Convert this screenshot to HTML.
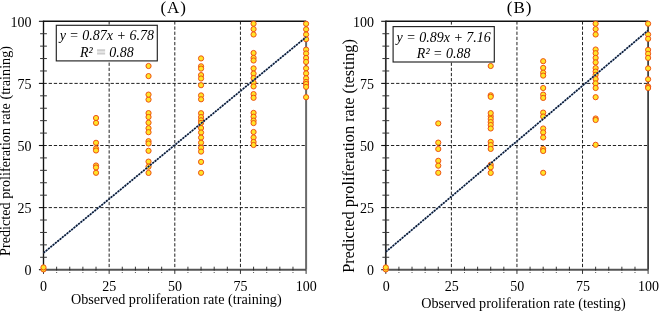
<!DOCTYPE html><html><head><meta charset="utf-8"><style>html,body{margin:0;padding:0;background:#fff;width:659px;height:311px;overflow:hidden}svg{display:block;will-change:transform}text{font-family:"Liberation Serif",serif;fill:#000}</style></head><body>
<svg width="659" height="311" viewBox="0 0 659 311">
<line x1="43.5" y1="207.60" x2="306.1" y2="207.60" stroke="#222" stroke-width="1" stroke-dasharray="3.3 1.86"/>
<line x1="109.15" y1="21.3" x2="109.15" y2="269.7" stroke="#222" stroke-width="1" stroke-dasharray="3.3 1.86"/>
<line x1="43.5" y1="145.50" x2="306.1" y2="145.50" stroke="#222" stroke-width="1" stroke-dasharray="3.3 1.86"/>
<line x1="174.80" y1="21.3" x2="174.80" y2="269.7" stroke="#222" stroke-width="1" stroke-dasharray="3.3 1.86"/>
<line x1="43.5" y1="83.40" x2="306.1" y2="83.40" stroke="#222" stroke-width="1" stroke-dasharray="3.3 1.86"/>
<line x1="240.45" y1="21.3" x2="240.45" y2="269.7" stroke="#222" stroke-width="1" stroke-dasharray="3.3 1.86"/>
<line x1="43.5" y1="21.3" x2="306.1" y2="21.3" stroke="#111" stroke-width="1.5"/>
<line x1="306.1" y1="21.3" x2="306.1" y2="269.7" stroke="#6a6a6a" stroke-width="2"/>
<line x1="43.5" y1="269.7" x2="306.1" y2="269.7" stroke="#555" stroke-width="2"/>
<line x1="43.5" y1="20.6" x2="43.5" y2="269.7" stroke="#111" stroke-width="1.35"/>
<line x1="38.9" y1="269.70" x2="43.5" y2="269.70" stroke="#111" stroke-width="1.1"/>
<line x1="43.50" y1="269.7" x2="43.50" y2="273.9" stroke="#333" stroke-width="1.0"/>
<line x1="40.1" y1="257.28" x2="46.9" y2="257.28" stroke="#333" stroke-width="1.0"/>
<line x1="56.63" y1="266.7" x2="56.63" y2="270.5" stroke="#222" stroke-width="0.9"/>
<rect x="56.13" y="272.00" width="1" height="1" fill="#555"/>
<line x1="40.1" y1="244.86" x2="46.9" y2="244.86" stroke="#333" stroke-width="1.0"/>
<line x1="69.76" y1="266.7" x2="69.76" y2="270.5" stroke="#222" stroke-width="0.9"/>
<rect x="69.26" y="272.00" width="1" height="1" fill="#555"/>
<line x1="40.1" y1="232.44" x2="46.9" y2="232.44" stroke="#333" stroke-width="1.0"/>
<line x1="82.89" y1="266.7" x2="82.89" y2="270.5" stroke="#222" stroke-width="0.9"/>
<rect x="82.39" y="272.00" width="1" height="1" fill="#555"/>
<line x1="40.1" y1="220.02" x2="46.9" y2="220.02" stroke="#333" stroke-width="1.0"/>
<line x1="96.02" y1="266.7" x2="96.02" y2="270.5" stroke="#222" stroke-width="0.9"/>
<rect x="95.52" y="272.00" width="1" height="1" fill="#555"/>
<line x1="38.9" y1="207.60" x2="43.5" y2="207.60" stroke="#111" stroke-width="1.1"/>
<line x1="109.15" y1="269.7" x2="109.15" y2="273.9" stroke="#333" stroke-width="1.0"/>
<line x1="40.1" y1="195.18" x2="46.9" y2="195.18" stroke="#333" stroke-width="1.0"/>
<line x1="122.28" y1="266.7" x2="122.28" y2="270.5" stroke="#222" stroke-width="0.9"/>
<rect x="121.78" y="272.00" width="1" height="1" fill="#555"/>
<line x1="40.1" y1="182.76" x2="46.9" y2="182.76" stroke="#333" stroke-width="1.0"/>
<line x1="135.41" y1="266.7" x2="135.41" y2="270.5" stroke="#222" stroke-width="0.9"/>
<rect x="134.91" y="272.00" width="1" height="1" fill="#555"/>
<line x1="40.1" y1="170.34" x2="46.9" y2="170.34" stroke="#333" stroke-width="1.0"/>
<line x1="148.54" y1="266.7" x2="148.54" y2="270.5" stroke="#222" stroke-width="0.9"/>
<rect x="148.04" y="272.00" width="1" height="1" fill="#555"/>
<line x1="40.1" y1="157.92" x2="46.9" y2="157.92" stroke="#333" stroke-width="1.0"/>
<line x1="161.67" y1="266.7" x2="161.67" y2="270.5" stroke="#222" stroke-width="0.9"/>
<rect x="161.17" y="272.00" width="1" height="1" fill="#555"/>
<line x1="38.9" y1="145.50" x2="43.5" y2="145.50" stroke="#111" stroke-width="1.1"/>
<line x1="174.80" y1="269.7" x2="174.80" y2="273.9" stroke="#333" stroke-width="1.0"/>
<line x1="40.1" y1="133.08" x2="46.9" y2="133.08" stroke="#333" stroke-width="1.0"/>
<line x1="187.93" y1="266.7" x2="187.93" y2="270.5" stroke="#222" stroke-width="0.9"/>
<rect x="187.43" y="272.00" width="1" height="1" fill="#555"/>
<line x1="40.1" y1="120.66" x2="46.9" y2="120.66" stroke="#333" stroke-width="1.0"/>
<line x1="201.06" y1="266.7" x2="201.06" y2="270.5" stroke="#222" stroke-width="0.9"/>
<rect x="200.56" y="272.00" width="1" height="1" fill="#555"/>
<line x1="40.1" y1="108.24" x2="46.9" y2="108.24" stroke="#333" stroke-width="1.0"/>
<line x1="214.19" y1="266.7" x2="214.19" y2="270.5" stroke="#222" stroke-width="0.9"/>
<rect x="213.69" y="272.00" width="1" height="1" fill="#555"/>
<line x1="40.1" y1="95.82" x2="46.9" y2="95.82" stroke="#333" stroke-width="1.0"/>
<line x1="227.32" y1="266.7" x2="227.32" y2="270.5" stroke="#222" stroke-width="0.9"/>
<rect x="226.82" y="272.00" width="1" height="1" fill="#555"/>
<line x1="38.9" y1="83.40" x2="43.5" y2="83.40" stroke="#111" stroke-width="1.1"/>
<line x1="240.45" y1="269.7" x2="240.45" y2="273.9" stroke="#333" stroke-width="1.0"/>
<line x1="40.1" y1="70.98" x2="46.9" y2="70.98" stroke="#333" stroke-width="1.0"/>
<line x1="253.58" y1="266.7" x2="253.58" y2="270.5" stroke="#222" stroke-width="0.9"/>
<rect x="253.08" y="272.00" width="1" height="1" fill="#555"/>
<line x1="40.1" y1="58.56" x2="46.9" y2="58.56" stroke="#333" stroke-width="1.0"/>
<line x1="266.71" y1="266.7" x2="266.71" y2="270.5" stroke="#222" stroke-width="0.9"/>
<rect x="266.21" y="272.00" width="1" height="1" fill="#555"/>
<line x1="40.1" y1="46.14" x2="46.9" y2="46.14" stroke="#333" stroke-width="1.0"/>
<line x1="279.84" y1="266.7" x2="279.84" y2="270.5" stroke="#222" stroke-width="0.9"/>
<rect x="279.34" y="272.00" width="1" height="1" fill="#555"/>
<line x1="40.1" y1="33.72" x2="46.9" y2="33.72" stroke="#333" stroke-width="1.0"/>
<line x1="292.97" y1="266.7" x2="292.97" y2="270.5" stroke="#222" stroke-width="0.9"/>
<rect x="292.47" y="272.00" width="1" height="1" fill="#555"/>
<line x1="38.9" y1="21.30" x2="43.5" y2="21.30" stroke="#111" stroke-width="1.1"/>
<line x1="306.10" y1="269.7" x2="306.10" y2="273.9" stroke="#333" stroke-width="1.0"/>
<text x="31.6" y="275.00" font-size="14" text-anchor="end">0</text>
<text x="43.60" y="291.4" font-size="14" text-anchor="middle">0</text>
<text x="31.6" y="212.90" font-size="14" text-anchor="end">25</text>
<text x="109.25" y="291.4" font-size="14" text-anchor="middle">25</text>
<text x="31.6" y="150.80" font-size="14" text-anchor="end">50</text>
<text x="174.90" y="291.4" font-size="14" text-anchor="middle">50</text>
<text x="31.6" y="88.70" font-size="14" text-anchor="end">75</text>
<text x="240.55" y="291.4" font-size="14" text-anchor="middle">75</text>
<text x="31.6" y="26.60" font-size="14" text-anchor="end">100</text>
<text x="306.20" y="291.4" font-size="14" text-anchor="middle">100</text>
<text x="176.3" y="304.0" font-size="14.2" text-anchor="middle">Observed proliferation rate (training)</text>
<text transform="translate(9.6,151.0) rotate(-90)" x="0" y="0" font-size="14.2" text-anchor="middle">Predicted proliferation rate (training)</text>
<text x="173.7" y="12.6" font-size="17" letter-spacing="1" text-anchor="middle">(A)</text>
<circle cx="43.50" cy="269.40" r="2.6" fill="#ffe428" stroke="#ec4a10" stroke-width="0.95"/>
<circle cx="43.50" cy="267.40" r="2.6" fill="#ffe428" stroke="#ec4a10" stroke-width="0.95"/>
<circle cx="96.02" cy="118.00" r="2.6" fill="#ffe428" stroke="#ec4a10" stroke-width="0.95"/>
<circle cx="96.02" cy="122.90" r="2.6" fill="#ffe428" stroke="#ec4a10" stroke-width="0.95"/>
<circle cx="96.02" cy="142.80" r="2.6" fill="#ffe428" stroke="#ec4a10" stroke-width="0.95"/>
<circle cx="96.02" cy="148.50" r="2.6" fill="#ffe428" stroke="#ec4a10" stroke-width="0.95"/>
<circle cx="96.02" cy="150.50" r="2.6" fill="#ffe428" stroke="#ec4a10" stroke-width="0.95"/>
<circle cx="96.02" cy="165.50" r="2.6" fill="#ffe428" stroke="#ec4a10" stroke-width="0.95"/>
<circle cx="96.02" cy="167.50" r="2.6" fill="#ffe428" stroke="#ec4a10" stroke-width="0.95"/>
<circle cx="96.02" cy="172.80" r="2.6" fill="#ffe428" stroke="#ec4a10" stroke-width="0.95"/>
<circle cx="148.54" cy="66.00" r="2.6" fill="#ffe428" stroke="#ec4a10" stroke-width="0.95"/>
<circle cx="148.54" cy="76.10" r="2.6" fill="#ffe428" stroke="#ec4a10" stroke-width="0.95"/>
<circle cx="148.54" cy="99.60" r="2.6" fill="#ffe428" stroke="#ec4a10" stroke-width="0.95"/>
<circle cx="148.54" cy="94.60" r="2.6" fill="#ffe428" stroke="#ec4a10" stroke-width="0.95"/>
<circle cx="148.54" cy="113.10" r="2.6" fill="#ffe428" stroke="#ec4a10" stroke-width="0.95"/>
<circle cx="148.54" cy="117.00" r="2.6" fill="#ffe428" stroke="#ec4a10" stroke-width="0.95"/>
<circle cx="148.54" cy="122.70" r="2.6" fill="#ffe428" stroke="#ec4a10" stroke-width="0.95"/>
<circle cx="148.54" cy="128.20" r="2.6" fill="#ffe428" stroke="#ec4a10" stroke-width="0.95"/>
<circle cx="148.54" cy="132.20" r="2.6" fill="#ffe428" stroke="#ec4a10" stroke-width="0.95"/>
<circle cx="148.54" cy="141.20" r="2.6" fill="#ffe428" stroke="#ec4a10" stroke-width="0.95"/>
<circle cx="148.54" cy="143.50" r="2.6" fill="#ffe428" stroke="#ec4a10" stroke-width="0.95"/>
<circle cx="148.54" cy="150.80" r="2.6" fill="#ffe428" stroke="#ec4a10" stroke-width="0.95"/>
<circle cx="148.54" cy="161.60" r="2.6" fill="#ffe428" stroke="#ec4a10" stroke-width="0.95"/>
<circle cx="148.54" cy="166.70" r="2.6" fill="#ffe428" stroke="#ec4a10" stroke-width="0.95"/>
<circle cx="148.54" cy="172.90" r="2.6" fill="#ffe428" stroke="#ec4a10" stroke-width="0.95"/>
<circle cx="201.06" cy="58.40" r="2.6" fill="#ffe428" stroke="#ec4a10" stroke-width="0.95"/>
<circle cx="201.06" cy="66.30" r="2.6" fill="#ffe428" stroke="#ec4a10" stroke-width="0.95"/>
<circle cx="201.06" cy="68.60" r="2.6" fill="#ffe428" stroke="#ec4a10" stroke-width="0.95"/>
<circle cx="201.06" cy="75.10" r="2.6" fill="#ffe428" stroke="#ec4a10" stroke-width="0.95"/>
<circle cx="201.06" cy="78.50" r="2.6" fill="#ffe428" stroke="#ec4a10" stroke-width="0.95"/>
<circle cx="201.06" cy="85.20" r="2.6" fill="#ffe428" stroke="#ec4a10" stroke-width="0.95"/>
<circle cx="201.06" cy="95.40" r="2.6" fill="#ffe428" stroke="#ec4a10" stroke-width="0.95"/>
<circle cx="201.06" cy="99.30" r="2.6" fill="#ffe428" stroke="#ec4a10" stroke-width="0.95"/>
<circle cx="201.06" cy="113.20" r="2.6" fill="#ffe428" stroke="#ec4a10" stroke-width="0.95"/>
<circle cx="201.06" cy="117.10" r="2.6" fill="#ffe428" stroke="#ec4a10" stroke-width="0.95"/>
<circle cx="201.06" cy="120.30" r="2.6" fill="#ffe428" stroke="#ec4a10" stroke-width="0.95"/>
<circle cx="201.06" cy="122.90" r="2.6" fill="#ffe428" stroke="#ec4a10" stroke-width="0.95"/>
<circle cx="201.06" cy="128.00" r="2.6" fill="#ffe428" stroke="#ec4a10" stroke-width="0.95"/>
<circle cx="201.06" cy="132.50" r="2.6" fill="#ffe428" stroke="#ec4a10" stroke-width="0.95"/>
<circle cx="201.06" cy="137.60" r="2.6" fill="#ffe428" stroke="#ec4a10" stroke-width="0.95"/>
<circle cx="201.06" cy="142.70" r="2.6" fill="#ffe428" stroke="#ec4a10" stroke-width="0.95"/>
<circle cx="201.06" cy="147.80" r="2.6" fill="#ffe428" stroke="#ec4a10" stroke-width="0.95"/>
<circle cx="201.06" cy="151.60" r="2.6" fill="#ffe428" stroke="#ec4a10" stroke-width="0.95"/>
<circle cx="201.06" cy="161.90" r="2.6" fill="#ffe428" stroke="#ec4a10" stroke-width="0.95"/>
<circle cx="201.06" cy="172.80" r="2.6" fill="#ffe428" stroke="#ec4a10" stroke-width="0.95"/>
<circle cx="253.58" cy="23.70" r="2.6" fill="#ffe428" stroke="#ec4a10" stroke-width="0.95"/>
<circle cx="253.58" cy="29.10" r="2.6" fill="#ffe428" stroke="#ec4a10" stroke-width="0.95"/>
<circle cx="253.58" cy="34.50" r="2.6" fill="#ffe428" stroke="#ec4a10" stroke-width="0.95"/>
<circle cx="253.58" cy="53.00" r="2.6" fill="#ffe428" stroke="#ec4a10" stroke-width="0.95"/>
<circle cx="253.58" cy="57.90" r="2.6" fill="#ffe428" stroke="#ec4a10" stroke-width="0.95"/>
<circle cx="253.58" cy="60.50" r="2.6" fill="#ffe428" stroke="#ec4a10" stroke-width="0.95"/>
<circle cx="253.58" cy="68.40" r="2.6" fill="#ffe428" stroke="#ec4a10" stroke-width="0.95"/>
<circle cx="253.58" cy="73.60" r="2.6" fill="#ffe428" stroke="#ec4a10" stroke-width="0.95"/>
<circle cx="253.58" cy="78.10" r="2.6" fill="#ffe428" stroke="#ec4a10" stroke-width="0.95"/>
<circle cx="253.58" cy="82.60" r="2.6" fill="#ffe428" stroke="#ec4a10" stroke-width="0.95"/>
<circle cx="253.58" cy="86.40" r="2.6" fill="#ffe428" stroke="#ec4a10" stroke-width="0.95"/>
<circle cx="253.58" cy="94.10" r="2.6" fill="#ffe428" stroke="#ec4a10" stroke-width="0.95"/>
<circle cx="253.58" cy="97.80" r="2.6" fill="#ffe428" stroke="#ec4a10" stroke-width="0.95"/>
<circle cx="253.58" cy="112.90" r="2.6" fill="#ffe428" stroke="#ec4a10" stroke-width="0.95"/>
<circle cx="253.58" cy="116.70" r="2.6" fill="#ffe428" stroke="#ec4a10" stroke-width="0.95"/>
<circle cx="253.58" cy="120.60" r="2.6" fill="#ffe428" stroke="#ec4a10" stroke-width="0.95"/>
<circle cx="253.58" cy="123.10" r="2.6" fill="#ffe428" stroke="#ec4a10" stroke-width="0.95"/>
<circle cx="253.58" cy="132.00" r="2.6" fill="#ffe428" stroke="#ec4a10" stroke-width="0.95"/>
<circle cx="253.58" cy="137.50" r="2.6" fill="#ffe428" stroke="#ec4a10" stroke-width="0.95"/>
<circle cx="253.58" cy="142.00" r="2.6" fill="#ffe428" stroke="#ec4a10" stroke-width="0.95"/>
<circle cx="253.58" cy="145.00" r="2.6" fill="#ffe428" stroke="#ec4a10" stroke-width="0.95"/>
<circle cx="306.10" cy="23.80" r="2.6" fill="#ffe428" stroke="#ec4a10" stroke-width="0.95"/>
<circle cx="306.10" cy="29.30" r="2.6" fill="#ffe428" stroke="#ec4a10" stroke-width="0.95"/>
<circle cx="306.10" cy="34.50" r="2.6" fill="#ffe428" stroke="#ec4a10" stroke-width="0.95"/>
<circle cx="306.10" cy="39.20" r="2.6" fill="#ffe428" stroke="#ec4a10" stroke-width="0.95"/>
<circle cx="306.10" cy="49.60" r="2.6" fill="#ffe428" stroke="#ec4a10" stroke-width="0.95"/>
<circle cx="306.10" cy="53.50" r="2.6" fill="#ffe428" stroke="#ec4a10" stroke-width="0.95"/>
<circle cx="306.10" cy="58.00" r="2.6" fill="#ffe428" stroke="#ec4a10" stroke-width="0.95"/>
<circle cx="306.10" cy="61.90" r="2.6" fill="#ffe428" stroke="#ec4a10" stroke-width="0.95"/>
<circle cx="306.10" cy="68.30" r="2.6" fill="#ffe428" stroke="#ec4a10" stroke-width="0.95"/>
<circle cx="306.10" cy="73.40" r="2.6" fill="#ffe428" stroke="#ec4a10" stroke-width="0.95"/>
<circle cx="306.10" cy="78.30" r="2.6" fill="#ffe428" stroke="#ec4a10" stroke-width="0.95"/>
<circle cx="306.10" cy="82.00" r="2.6" fill="#ffe428" stroke="#ec4a10" stroke-width="0.95"/>
<circle cx="306.10" cy="84.00" r="2.6" fill="#ffe428" stroke="#ec4a10" stroke-width="0.95"/>
<circle cx="306.10" cy="86.90" r="2.6" fill="#ffe428" stroke="#ec4a10" stroke-width="0.95"/>
<circle cx="306.10" cy="97.20" r="2.6" fill="#ffe428" stroke="#ec4a10" stroke-width="0.95"/>
<line x1="43.5" y1="252.90" x2="306.1" y2="37.10" stroke="#9ab2d4" stroke-width="1.3"/>
<line x1="43.5" y1="252.90" x2="306.1" y2="37.10" stroke="#0a1830" stroke-width="1.7" stroke-dasharray="1.9 1.1"/>
<rect x="56.3" y="25.3" width="101.0" height="35.6" fill="#fff" stroke="#222" stroke-width="1.15"/>
<text x="106.8" y="40.3" font-size="14" font-style="italic" text-anchor="middle">y = 0.87x + 6.78</text>
<text x="106.8" y="56.6" font-size="14" font-style="italic" text-anchor="middle">R² <tspan fill="#cdcdcd" stroke="#cdcdcd" stroke-width="1.5">=</tspan> 0.88</text>
<line x1="385.8" y1="207.60" x2="648.1" y2="207.60" stroke="#222" stroke-width="1" stroke-dasharray="3.3 1.86"/>
<line x1="451.38" y1="21.3" x2="451.38" y2="269.7" stroke="#222" stroke-width="1" stroke-dasharray="3.3 1.86"/>
<line x1="385.8" y1="145.50" x2="648.1" y2="145.50" stroke="#222" stroke-width="1" stroke-dasharray="3.3 1.86"/>
<line x1="516.95" y1="21.3" x2="516.95" y2="269.7" stroke="#222" stroke-width="1" stroke-dasharray="3.3 1.86"/>
<line x1="385.8" y1="83.40" x2="648.1" y2="83.40" stroke="#222" stroke-width="1" stroke-dasharray="3.3 1.86"/>
<line x1="582.52" y1="21.3" x2="582.52" y2="269.7" stroke="#222" stroke-width="1" stroke-dasharray="3.3 1.86"/>
<line x1="385.8" y1="21.3" x2="648.1" y2="21.3" stroke="#111" stroke-width="1.5"/>
<line x1="648.1" y1="21.3" x2="648.1" y2="269.7" stroke="#2a2a2a" stroke-width="1.6"/>
<line x1="385.8" y1="269.7" x2="648.1" y2="269.7" stroke="#555" stroke-width="2"/>
<line x1="385.8" y1="20.6" x2="385.8" y2="269.7" stroke="#2a2a2a" stroke-width="1.7"/>
<line x1="381.2" y1="269.70" x2="385.8" y2="269.70" stroke="#111" stroke-width="1.1"/>
<line x1="385.80" y1="269.7" x2="385.80" y2="273.9" stroke="#333" stroke-width="1.0"/>
<line x1="382.40000000000003" y1="257.28" x2="389.2" y2="257.28" stroke="#333" stroke-width="1.0"/>
<line x1="398.92" y1="266.7" x2="398.92" y2="270.5" stroke="#222" stroke-width="0.9"/>
<rect x="398.42" y="272.00" width="1" height="1" fill="#555"/>
<line x1="382.40000000000003" y1="244.86" x2="389.2" y2="244.86" stroke="#333" stroke-width="1.0"/>
<line x1="412.03" y1="266.7" x2="412.03" y2="270.5" stroke="#222" stroke-width="0.9"/>
<rect x="411.53" y="272.00" width="1" height="1" fill="#555"/>
<line x1="382.40000000000003" y1="232.44" x2="389.2" y2="232.44" stroke="#333" stroke-width="1.0"/>
<line x1="425.14" y1="266.7" x2="425.14" y2="270.5" stroke="#222" stroke-width="0.9"/>
<rect x="424.64" y="272.00" width="1" height="1" fill="#555"/>
<line x1="382.40000000000003" y1="220.02" x2="389.2" y2="220.02" stroke="#333" stroke-width="1.0"/>
<line x1="438.26" y1="266.7" x2="438.26" y2="270.5" stroke="#222" stroke-width="0.9"/>
<rect x="437.76" y="272.00" width="1" height="1" fill="#555"/>
<line x1="381.2" y1="207.60" x2="385.8" y2="207.60" stroke="#111" stroke-width="1.1"/>
<line x1="451.38" y1="269.7" x2="451.38" y2="273.9" stroke="#333" stroke-width="1.0"/>
<line x1="382.40000000000003" y1="195.18" x2="389.2" y2="195.18" stroke="#333" stroke-width="1.0"/>
<line x1="464.49" y1="266.7" x2="464.49" y2="270.5" stroke="#222" stroke-width="0.9"/>
<rect x="463.99" y="272.00" width="1" height="1" fill="#555"/>
<line x1="382.40000000000003" y1="182.76" x2="389.2" y2="182.76" stroke="#333" stroke-width="1.0"/>
<line x1="477.61" y1="266.7" x2="477.61" y2="270.5" stroke="#222" stroke-width="0.9"/>
<rect x="477.11" y="272.00" width="1" height="1" fill="#555"/>
<line x1="382.40000000000003" y1="170.34" x2="389.2" y2="170.34" stroke="#333" stroke-width="1.0"/>
<line x1="490.72" y1="266.7" x2="490.72" y2="270.5" stroke="#222" stroke-width="0.9"/>
<rect x="490.22" y="272.00" width="1" height="1" fill="#555"/>
<line x1="382.40000000000003" y1="157.92" x2="389.2" y2="157.92" stroke="#333" stroke-width="1.0"/>
<line x1="503.84" y1="266.7" x2="503.84" y2="270.5" stroke="#222" stroke-width="0.9"/>
<rect x="503.34" y="272.00" width="1" height="1" fill="#555"/>
<line x1="381.2" y1="145.50" x2="385.8" y2="145.50" stroke="#111" stroke-width="1.1"/>
<line x1="516.95" y1="269.7" x2="516.95" y2="273.9" stroke="#333" stroke-width="1.0"/>
<line x1="382.40000000000003" y1="133.08" x2="389.2" y2="133.08" stroke="#333" stroke-width="1.0"/>
<line x1="530.07" y1="266.7" x2="530.07" y2="270.5" stroke="#222" stroke-width="0.9"/>
<rect x="529.57" y="272.00" width="1" height="1" fill="#555"/>
<line x1="382.40000000000003" y1="120.66" x2="389.2" y2="120.66" stroke="#333" stroke-width="1.0"/>
<line x1="543.18" y1="266.7" x2="543.18" y2="270.5" stroke="#222" stroke-width="0.9"/>
<rect x="542.68" y="272.00" width="1" height="1" fill="#555"/>
<line x1="382.40000000000003" y1="108.24" x2="389.2" y2="108.24" stroke="#333" stroke-width="1.0"/>
<line x1="556.30" y1="266.7" x2="556.30" y2="270.5" stroke="#222" stroke-width="0.9"/>
<rect x="555.80" y="272.00" width="1" height="1" fill="#555"/>
<line x1="382.40000000000003" y1="95.82" x2="389.2" y2="95.82" stroke="#333" stroke-width="1.0"/>
<line x1="569.41" y1="266.7" x2="569.41" y2="270.5" stroke="#222" stroke-width="0.9"/>
<rect x="568.91" y="272.00" width="1" height="1" fill="#555"/>
<line x1="381.2" y1="83.40" x2="385.8" y2="83.40" stroke="#111" stroke-width="1.1"/>
<line x1="582.52" y1="269.7" x2="582.52" y2="273.9" stroke="#333" stroke-width="1.0"/>
<line x1="382.40000000000003" y1="70.98" x2="389.2" y2="70.98" stroke="#333" stroke-width="1.0"/>
<line x1="595.64" y1="266.7" x2="595.64" y2="270.5" stroke="#222" stroke-width="0.9"/>
<rect x="595.14" y="272.00" width="1" height="1" fill="#555"/>
<line x1="382.40000000000003" y1="58.56" x2="389.2" y2="58.56" stroke="#333" stroke-width="1.0"/>
<line x1="608.75" y1="266.7" x2="608.75" y2="270.5" stroke="#222" stroke-width="0.9"/>
<rect x="608.25" y="272.00" width="1" height="1" fill="#555"/>
<line x1="382.40000000000003" y1="46.14" x2="389.2" y2="46.14" stroke="#333" stroke-width="1.0"/>
<line x1="621.87" y1="266.7" x2="621.87" y2="270.5" stroke="#222" stroke-width="0.9"/>
<rect x="621.37" y="272.00" width="1" height="1" fill="#555"/>
<line x1="382.40000000000003" y1="33.72" x2="389.2" y2="33.72" stroke="#333" stroke-width="1.0"/>
<line x1="634.99" y1="266.7" x2="634.99" y2="270.5" stroke="#222" stroke-width="0.9"/>
<rect x="634.49" y="272.00" width="1" height="1" fill="#555"/>
<line x1="381.2" y1="21.30" x2="385.8" y2="21.30" stroke="#111" stroke-width="1.1"/>
<line x1="648.10" y1="269.7" x2="648.10" y2="273.9" stroke="#333" stroke-width="1.0"/>
<text x="373.9" y="275.00" font-size="14" text-anchor="end">0</text>
<text x="386.20" y="291.4" font-size="14" text-anchor="middle">0</text>
<text x="373.9" y="212.90" font-size="14" text-anchor="end">25</text>
<text x="451.77" y="291.4" font-size="14" text-anchor="middle">25</text>
<text x="373.9" y="150.80" font-size="14" text-anchor="end">50</text>
<text x="517.35" y="291.4" font-size="14" text-anchor="middle">50</text>
<text x="373.9" y="88.70" font-size="14" text-anchor="end">75</text>
<text x="582.92" y="291.4" font-size="14" text-anchor="middle">75</text>
<text x="373.9" y="26.60" font-size="14" text-anchor="end">100</text>
<text x="648.50" y="291.4" font-size="14" text-anchor="middle">100</text>
<text x="523.4" y="307.8" font-size="14.2" text-anchor="middle">Observed proliferation rate (testing)</text>
<text transform="translate(354.3,156.0) rotate(-90)" x="0" y="0" font-size="16.3" text-anchor="middle">Predicted proliferation rate (testing)</text>
<text x="519.7" y="12.6" font-size="17" letter-spacing="1" text-anchor="middle">(B)</text>
<circle cx="385.80" cy="269.40" r="2.6" fill="#ffe428" stroke="#ec4a10" stroke-width="0.95"/>
<circle cx="385.80" cy="267.40" r="2.6" fill="#ffe428" stroke="#ec4a10" stroke-width="0.95"/>
<circle cx="438.26" cy="123.40" r="2.6" fill="#ffe428" stroke="#ec4a10" stroke-width="0.95"/>
<circle cx="438.26" cy="142.60" r="2.6" fill="#ffe428" stroke="#ec4a10" stroke-width="0.95"/>
<circle cx="438.26" cy="149.00" r="2.6" fill="#ffe428" stroke="#ec4a10" stroke-width="0.95"/>
<circle cx="438.26" cy="160.80" r="2.6" fill="#ffe428" stroke="#ec4a10" stroke-width="0.95"/>
<circle cx="438.26" cy="165.70" r="2.6" fill="#ffe428" stroke="#ec4a10" stroke-width="0.95"/>
<circle cx="438.26" cy="172.80" r="2.6" fill="#ffe428" stroke="#ec4a10" stroke-width="0.95"/>
<circle cx="490.72" cy="66.00" r="2.6" fill="#ffe428" stroke="#ec4a10" stroke-width="0.95"/>
<circle cx="490.72" cy="95.30" r="2.6" fill="#ffe428" stroke="#ec4a10" stroke-width="0.95"/>
<circle cx="490.72" cy="96.80" r="2.6" fill="#ffe428" stroke="#ec4a10" stroke-width="0.95"/>
<circle cx="490.72" cy="116.30" r="2.6" fill="#ffe428" stroke="#ec4a10" stroke-width="0.95"/>
<circle cx="490.72" cy="119.00" r="2.6" fill="#ffe428" stroke="#ec4a10" stroke-width="0.95"/>
<circle cx="490.72" cy="122.10" r="2.6" fill="#ffe428" stroke="#ec4a10" stroke-width="0.95"/>
<circle cx="490.72" cy="125.00" r="2.6" fill="#ffe428" stroke="#ec4a10" stroke-width="0.95"/>
<circle cx="490.72" cy="113.10" r="2.6" fill="#ffe428" stroke="#ec4a10" stroke-width="0.95"/>
<circle cx="490.72" cy="128.50" r="2.6" fill="#ffe428" stroke="#ec4a10" stroke-width="0.95"/>
<circle cx="490.72" cy="141.90" r="2.6" fill="#ffe428" stroke="#ec4a10" stroke-width="0.95"/>
<circle cx="490.72" cy="145.10" r="2.6" fill="#ffe428" stroke="#ec4a10" stroke-width="0.95"/>
<circle cx="490.72" cy="148.90" r="2.6" fill="#ffe428" stroke="#ec4a10" stroke-width="0.95"/>
<circle cx="490.72" cy="164.80" r="2.6" fill="#ffe428" stroke="#ec4a10" stroke-width="0.95"/>
<circle cx="490.72" cy="167.30" r="2.6" fill="#ffe428" stroke="#ec4a10" stroke-width="0.95"/>
<circle cx="490.72" cy="172.90" r="2.6" fill="#ffe428" stroke="#ec4a10" stroke-width="0.95"/>
<circle cx="543.18" cy="61.20" r="2.6" fill="#ffe428" stroke="#ec4a10" stroke-width="0.95"/>
<circle cx="543.18" cy="67.90" r="2.6" fill="#ffe428" stroke="#ec4a10" stroke-width="0.95"/>
<circle cx="543.18" cy="72.70" r="2.6" fill="#ffe428" stroke="#ec4a10" stroke-width="0.95"/>
<circle cx="543.18" cy="75.60" r="2.6" fill="#ffe428" stroke="#ec4a10" stroke-width="0.95"/>
<circle cx="543.18" cy="88.00" r="2.6" fill="#ffe428" stroke="#ec4a10" stroke-width="0.95"/>
<circle cx="543.18" cy="94.60" r="2.6" fill="#ffe428" stroke="#ec4a10" stroke-width="0.95"/>
<circle cx="543.18" cy="97.90" r="2.6" fill="#ffe428" stroke="#ec4a10" stroke-width="0.95"/>
<circle cx="543.18" cy="112.60" r="2.6" fill="#ffe428" stroke="#ec4a10" stroke-width="0.95"/>
<circle cx="543.18" cy="116.50" r="2.6" fill="#ffe428" stroke="#ec4a10" stroke-width="0.95"/>
<circle cx="543.18" cy="128.50" r="2.6" fill="#ffe428" stroke="#ec4a10" stroke-width="0.95"/>
<circle cx="543.18" cy="132.40" r="2.6" fill="#ffe428" stroke="#ec4a10" stroke-width="0.95"/>
<circle cx="543.18" cy="137.50" r="2.6" fill="#ffe428" stroke="#ec4a10" stroke-width="0.95"/>
<circle cx="543.18" cy="148.80" r="2.6" fill="#ffe428" stroke="#ec4a10" stroke-width="0.95"/>
<circle cx="543.18" cy="151.00" r="2.6" fill="#ffe428" stroke="#ec4a10" stroke-width="0.95"/>
<circle cx="543.18" cy="172.80" r="2.6" fill="#ffe428" stroke="#ec4a10" stroke-width="0.95"/>
<circle cx="595.64" cy="23.70" r="2.6" fill="#ffe428" stroke="#ec4a10" stroke-width="0.95"/>
<circle cx="595.64" cy="29.10" r="2.6" fill="#ffe428" stroke="#ec4a10" stroke-width="0.95"/>
<circle cx="595.64" cy="34.50" r="2.6" fill="#ffe428" stroke="#ec4a10" stroke-width="0.95"/>
<circle cx="595.64" cy="49.50" r="2.6" fill="#ffe428" stroke="#ec4a10" stroke-width="0.95"/>
<circle cx="595.64" cy="53.20" r="2.6" fill="#ffe428" stroke="#ec4a10" stroke-width="0.95"/>
<circle cx="595.64" cy="57.90" r="2.6" fill="#ffe428" stroke="#ec4a10" stroke-width="0.95"/>
<circle cx="595.64" cy="62.40" r="2.6" fill="#ffe428" stroke="#ec4a10" stroke-width="0.95"/>
<circle cx="595.64" cy="68.10" r="2.6" fill="#ffe428" stroke="#ec4a10" stroke-width="0.95"/>
<circle cx="595.64" cy="71.60" r="2.6" fill="#ffe428" stroke="#ec4a10" stroke-width="0.95"/>
<circle cx="595.64" cy="74.80" r="2.6" fill="#ffe428" stroke="#ec4a10" stroke-width="0.95"/>
<circle cx="595.64" cy="79.00" r="2.6" fill="#ffe428" stroke="#ec4a10" stroke-width="0.95"/>
<circle cx="595.64" cy="83.40" r="2.6" fill="#ffe428" stroke="#ec4a10" stroke-width="0.95"/>
<circle cx="595.64" cy="88.00" r="2.6" fill="#ffe428" stroke="#ec4a10" stroke-width="0.95"/>
<circle cx="595.64" cy="97.20" r="2.6" fill="#ffe428" stroke="#ec4a10" stroke-width="0.95"/>
<circle cx="595.64" cy="118.50" r="2.6" fill="#ffe428" stroke="#ec4a10" stroke-width="0.95"/>
<circle cx="595.64" cy="120.00" r="2.6" fill="#ffe428" stroke="#ec4a10" stroke-width="0.95"/>
<circle cx="595.64" cy="144.80" r="2.6" fill="#ffe428" stroke="#ec4a10" stroke-width="0.95"/>
<circle cx="648.10" cy="23.70" r="2.6" fill="#ffe428" stroke="#ec4a10" stroke-width="0.95"/>
<circle cx="648.10" cy="34.50" r="2.6" fill="#ffe428" stroke="#ec4a10" stroke-width="0.95"/>
<circle cx="648.10" cy="38.80" r="2.6" fill="#ffe428" stroke="#ec4a10" stroke-width="0.95"/>
<circle cx="648.10" cy="49.90" r="2.6" fill="#ffe428" stroke="#ec4a10" stroke-width="0.95"/>
<circle cx="648.10" cy="53.80" r="2.6" fill="#ffe428" stroke="#ec4a10" stroke-width="0.95"/>
<circle cx="648.10" cy="57.90" r="2.6" fill="#ffe428" stroke="#ec4a10" stroke-width="0.95"/>
<circle cx="648.10" cy="68.40" r="2.6" fill="#ffe428" stroke="#ec4a10" stroke-width="0.95"/>
<circle cx="648.10" cy="79.30" r="2.6" fill="#ffe428" stroke="#ec4a10" stroke-width="0.95"/>
<circle cx="648.10" cy="86.50" r="2.6" fill="#ffe428" stroke="#ec4a10" stroke-width="0.95"/>
<circle cx="648.10" cy="88.00" r="2.6" fill="#ffe428" stroke="#ec4a10" stroke-width="0.95"/>
<line x1="385.8" y1="251.90" x2="648.1" y2="30.40" stroke="#9ab2d4" stroke-width="1.3"/>
<line x1="385.8" y1="251.90" x2="648.1" y2="30.40" stroke="#0a1830" stroke-width="1.7" stroke-dasharray="1.9 1.1"/>
<rect x="393.1" y="26.6" width="101.2" height="35.4" fill="#fff" stroke="#222" stroke-width="1.15"/>
<text x="443.7" y="41.6" font-size="14" font-style="italic" text-anchor="middle">y = 0.89x + 7.16</text>
<text x="443.7" y="57.9" font-size="14" font-style="italic" text-anchor="middle">R² = 0.88</text>
</svg></body></html>
